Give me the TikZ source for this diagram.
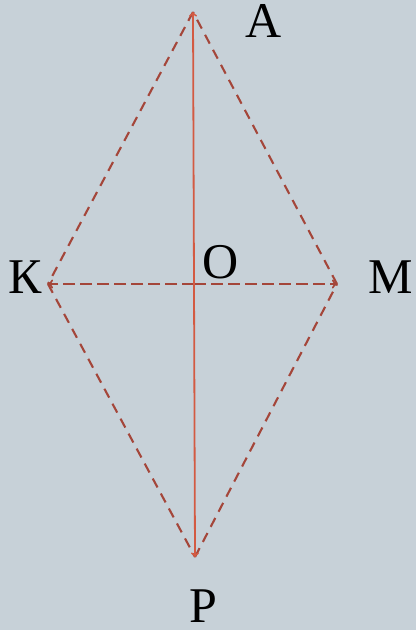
\documentclass[tikz,border=0pt]{standalone}
\usepackage{fontspec}
\setmainfont{Liberation Serif}
\definecolor{bgcol}{HTML}{C7D1D8}
\definecolor{axisred}{HTML}{D35A42}
\definecolor{edgebrown}{HTML}{A4463A}
\begin{document}
\begin{tikzpicture}[
    x=1pt, y=-1pt,
    every node/.style={font=\fontsize{50}{54}\selectfont, inner sep=0pt}
]

\tikzset{diag/.style={draw=axisred, line width=1.8pt, ->},
         side/.style={draw=edgebrown, line width=2.1pt, dash pattern=on 10pt off 7pt},
         half/.style={draw=edgebrown, line width=2.1pt, dash pattern=on 12pt off 5pt, ->}}

\fill[bgcol] (0,0) rectangle (416,630);
\useasboundingbox (0,0) rectangle (416,630);

% вершины
\coordinate (A) at (193,12);
\coordinate (K) at (48,284);
\coordinate (M) at (337,284);
\coordinate (P) at (195,557);
\coordinate (O) at (194,284);

% стороны ромба
\draw[side] (A)--(K);
\draw[side] (K)--(P);
\draw[side] (P)--(M);
\draw[side] (M)--(A);

% диагонали
\draw[half] (O)--(K);
\draw[half] (O)--(M);
\draw[diag] (O)--(A);
\draw[diag] (O)--(P);

% подписи
\node (la) at (264,21)  {А};
\node (lk) at (25,277)  {К};
\node (lm) at (391,277) {М};
\node (lo) at (221,262) {О};
\node (lp) at (203,606) {Р};

\end{tikzpicture}
\end{document}
